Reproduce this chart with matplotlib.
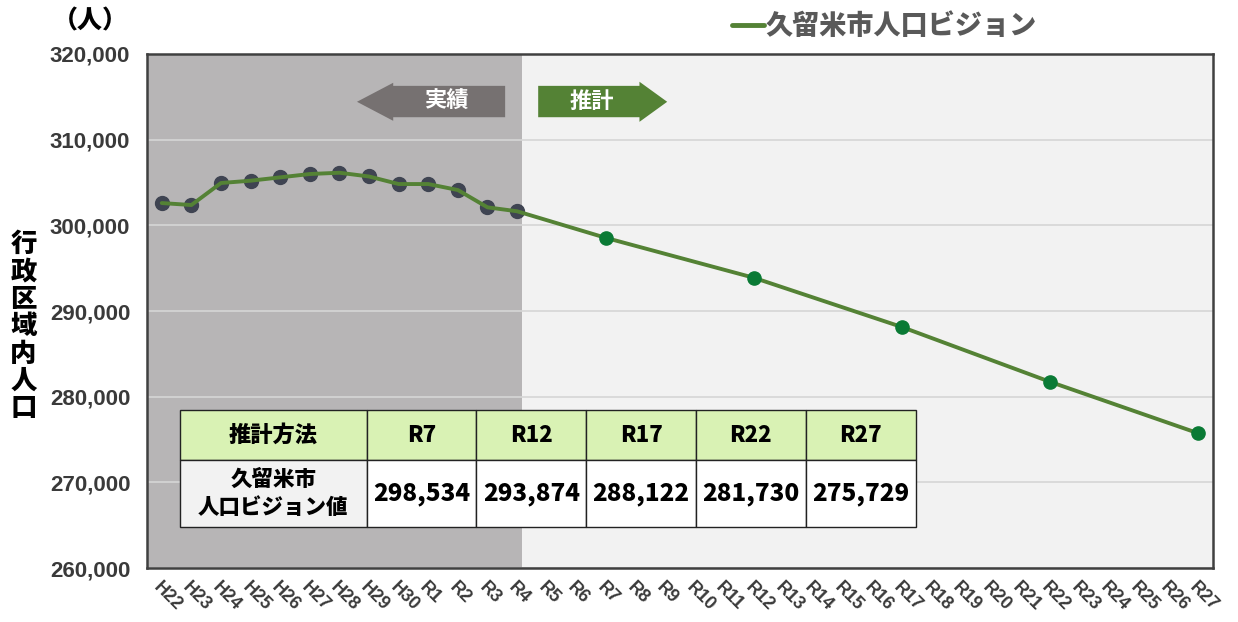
import matplotlib
matplotlib.use("Agg")
import matplotlib.pyplot as plt
from matplotlib.patches import Polygon
from matplotlib.ticker import FuncFormatter

plt.rcParams['font.family'] = ['Liberation Sans', 'Noto Sans CJK JP', 'DejaVu Sans']
JP = ['Noto Sans CJK JP', 'DejaVu Sans']

# 年次ラベル
years = ['H22', 'H23', 'H24', 'H25', 'H26', 'H27', 'H28', 'H29', 'H30',
         'R1', 'R2', 'R3', 'R4', 'R5', 'R6', 'R7', 'R8', 'R9', 'R10',
         'R11', 'R12', 'R13', 'R14', 'R15', 'R16', 'R17', 'R18', 'R19', 'R20',
         'R21', 'R22', 'R23', 'R24', 'R25', 'R26', 'R27']

# 実績 (H22〜R4)
actual_years = ['H22', 'H23', 'H24', 'H25', 'H26', 'H27', 'H28', 'H29', 'H30',
                'R1', 'R2', 'R3', 'R4']
actual_pop = [302600, 302370, 304940, 305210, 305600, 305990, 306140,
              305700, 304820, 304820, 304120, 302100, 301640]

# 推計 (人口ビジョン)
proj_years = ['R7', 'R12', 'R17', 'R22', 'R27']
proj_pop = [298534, 293874, 288122, 281730, 275729]

line_col = '#548235'
fig = plt.figure(figsize=(12.38, 6.22), dpi=100)
ax = fig.add_axes([0.1187, 0.0868, 0.8611, 0.8264])
ax.set_facecolor('#f2f2f2')

idx = {y: i for i, y in enumerate(years)}
xa = [idx[y] for y in actual_years]
xp = [idx[y] for y in proj_years]

# 実績期間の網掛け
ax.axvspan(-0.5, xa[-1] + 0.15, color='#b7b5b6', zorder=0.2, lw=0)

# 線
ax.plot(xa + xp, actual_pop + proj_pop, color=line_col, lw=2.8, zorder=3,
        label='久留米市人口ビジョン', solid_capstyle='round')
ax.plot(xa, actual_pop, 'o', ms=10, color='#3f4452', zorder=2.5)
ax.plot(xp, proj_pop, 'o', ms=9.5, color='#0a7a35', zorder=4)

ax.set_xlim(-0.5, len(years) - 0.5)
ax.set_ylim(260000, 320000)
ax.set_yticks(range(260000, 320001, 10000))
ax.yaxis.set_major_formatter(FuncFormatter(lambda v, p: f'{int(v):,}'))
ax.set_xticks(range(len(years)))
ax.set_xticklabels(years, rotation=-45, ha='left', va='top', rotation_mode='anchor')
ax.tick_params(axis='both', length=0, colors='#3a3a3a')
ax.tick_params(axis='x', pad=8, labelsize=13)
ax.tick_params(axis='y', pad=12, labelsize=16)
for lab in ax.get_xticklabels() + ax.get_yticklabels():
    lab.set_fontweight('bold')

ax.set_axisbelow(True)
ax.yaxis.grid(True, color='#d6d6d6', lw=1.2, zorder=0.5)
for s in ax.spines.values():
    s.set_color('#404040')
    s.set_linewidth(1.8)

# 矢印（実績・推計）
gray_arrow = [(0.197, 0.907), (0.231, 0.944), (0.231, 0.938), (0.336, 0.938),
              (0.336, 0.877), (0.231, 0.877), (0.231, 0.870)]
green_arrow = [(0.367, 0.938), (0.462, 0.938), (0.462, 0.946), (0.488, 0.907),
               (0.462, 0.868), (0.462, 0.877), (0.367, 0.877)]
ax.add_patch(Polygon(gray_arrow, closed=True, transform=ax.transAxes,
                     color='#767171', zorder=5, lw=0))
ax.add_patch(Polygon(green_arrow, closed=True, transform=ax.transAxes,
                     color=line_col, zorder=5, lw=0))
ax.text(0.281, 0.907, '実績', transform=ax.transAxes, color='white', fontsize=16,
        fontweight='bold', family=JP, ha='center', va='center', zorder=6)
ax.text(0.417, 0.907, '推計', transform=ax.transAxes, color='white', fontsize=16,
        fontweight='bold', family=JP, ha='center', va='center', zorder=6)

# 表
col_labels = ['推計方法'] + proj_years
row_cells = ['久留米市\n人口ビジョン値'] + [f'{v:,}' for v in proj_pop]
tbl = ax.table(cellText=[col_labels, row_cells], cellLoc='center',
               bbox=[0.031, 0.080, 0.690, 0.227], zorder=7)
tbl.auto_set_font_size(False)
widths = [187] + [110] * len(proj_years)
for (r, c), cell in tbl.get_celld().items():
    cell.set_width(widths[c])
    cell.set_height(50 if r == 0 else 67)
    cell.set_edgecolor('#222222')
    cell.set_linewidth(1.0)
    txt = cell.get_text()
    txt.set_fontweight('black')
    txt.set_family(JP)
    if r == 0:
        cell.set_facecolor('#d9f2b4')
        txt.set_fontsize(16)
    else:
        cell.set_facecolor('#f2f2f2' if c == 0 else 'white')
        txt.set_fontsize(15.5 if c == 0 else 17.5)
        if c == 0:
            txt.set_linespacing(1.25)

# 凡例
leg = ax.legend(loc='lower right', bbox_to_anchor=(0.85, 0.995), frameon=False,
                handlelength=1.2, handletextpad=0.05, borderaxespad=0.2,
                prop={'family': JP, 'weight': 'black', 'size': 19.5})
for t in leg.get_texts():
    t.set_color('#595959')
for h in leg.get_lines():
    h.set_linewidth(3.5)

# 軸タイトル
fig.text(0.073, 0.967, '（人）', fontsize=18, fontweight='black', family=JP,
         ha='center', va='center', color='black')
fig.text(0.019, 0.476, '\n'.join('行政区域内人口'), fontsize=19, fontweight='black',
         family=JP, ha='center', va='center', linespacing=0.95, color='black')

fig.savefig('out.png', dpi=100)
